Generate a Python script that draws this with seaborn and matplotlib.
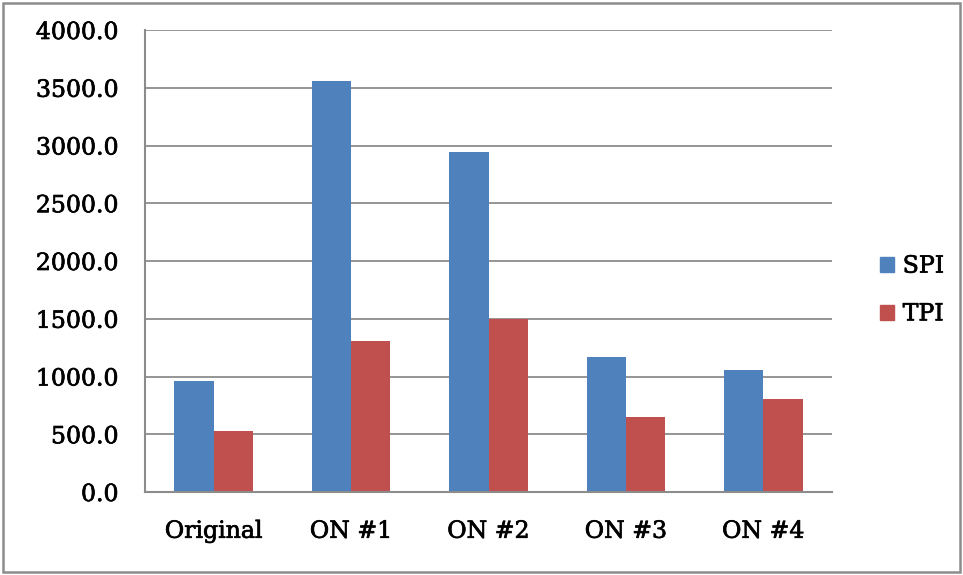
import matplotlib
matplotlib.use("Agg")
import matplotlib.pyplot as plt
import matplotlib.patches as mpatches
import matplotlib.patheffects as pe
import seaborn as sns
import pandas as pd
import numpy as np

categories = ["Original", "ON #1", "ON #2", "ON #3", "ON #4"]
spi_values = [965, 3560, 2945, 1166, 1054]
tpi_values = [525, 1305, 1500, 652, 802]
series_names = ["SPI", "TPI"]
y_ticks = [0, 500, 1000, 1500, 2000, 2500, 3000, 3500, 4000]

df = pd.DataFrame({
    "category": categories * 2,
    "value": spi_values + tpi_values,
    "series": [series_names[0]] * len(categories) + [series_names[1]] * len(categories),
})

sns.set_style("white")
plt.rcParams["font.family"] = ["DejaVu Serif"]
plt.rcParams["text.color"] = "black"

fig = plt.figure(figsize=(9.63, 5.75), dpi=100)
ax = fig.add_axes([145 / 963, 1 - 492 / 575, (832 - 145) / 963, (492 - 30) / 575])

palette = {"SPI": "#4F81BD", "TPI": "#C0504D"}
sns.barplot(data=df, x="category", y="value", hue="series", order=categories,
            hue_order=series_names, palette=palette, width=0.571, gap=0,
            saturation=1, edgecolor="none", ax=ax, legend=False)

ax.set_ylim(0, 4000)
ax.set_xlim(-0.5, len(categories) - 0.5)
ax.set_yticks(y_ticks)
ax.set_yticklabels([f"{v:.1f}" for v in y_ticks], fontsize=17, color="black")
ax.yaxis.grid(True, color="#8c8c8c", linewidth=1.3)
ax.set_axisbelow(True)
ax.set_xlabel("")
ax.set_ylabel("")

# category labels centred, tick marks on category boundaries
ax.set_xticks(range(len(categories)))
ax.set_xticklabels(categories, fontsize=17, color="black")
ax.tick_params(axis="x", which="major", length=0, pad=20)
ax.set_xticks(np.arange(-0.5, len(categories), 1.0), minor=True)
ax.tick_params(axis="x", which="minor", length=6, width=1.3, color="#8c8c8c", direction="out")
ax.tick_params(axis="y", which="major", length=6, width=1.3, color="#8c8c8c",
               direction="out", pad=13)

for side in ["top", "right"]:
    ax.spines[side].set_visible(False)
for side in ["left", "bottom"]:
    ax.spines[side].set_color("#8c8c8c")
    ax.spines[side].set_linewidth(1.5)

handles = [mpatches.Patch(color=palette[s], label=s) for s in series_names]
leg = fig.legend(handles=handles, loc="center left", bbox_to_anchor=(859 / 963, 1 - 290 / 575),
                 frameon=False, fontsize=17, handlelength=0.6, handleheight=0.6,
                 handletextpad=0.35, labelspacing=1.05)

# slightly heavier strokes on all labels
stroke = [pe.withStroke(linewidth=0.5, foreground="black")]
for t in ax.get_xticklabels() + ax.get_yticklabels() + leg.get_texts():
    t.set_path_effects(stroke)

# outer chart border
fig.patches.append(mpatches.Rectangle((3 / 963, 3 / 575), 957 / 963, 569 / 575,
                                      transform=fig.transFigure, fill=False,
                                      edgecolor="#8c8c8c", linewidth=1.8))

fig.savefig("out.png", dpi=100)
